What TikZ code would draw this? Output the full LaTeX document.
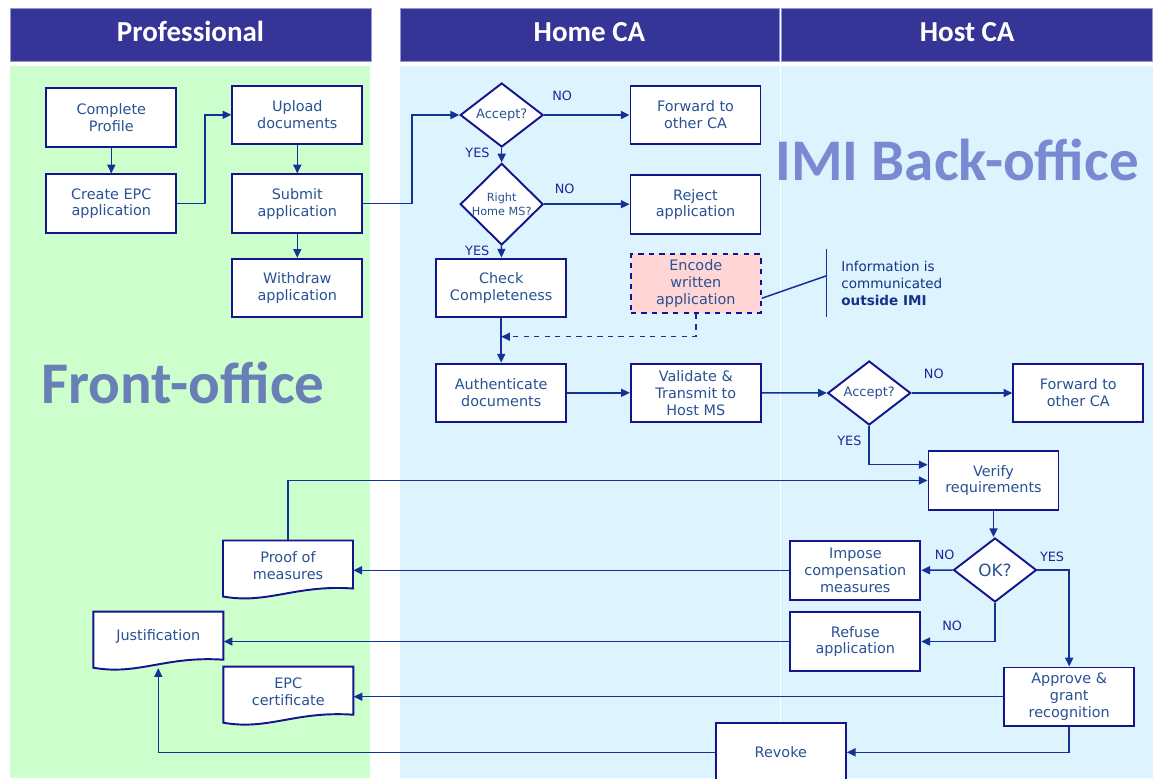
\documentclass[tikz,border=0pt]{standalone}
\usepackage{fontspec}
\setmainfont{DejaVu Sans}
\newfontfamily\headfont{Carlito}
\usetikzlibrary{shapes.geometric,arrows.meta}
\definecolor{headfill}{RGB}{53,53,151}
\definecolor{headline}{RGB}{150,150,215}
\definecolor{lanegreen}{RGB}{204,255,204}
\definecolor{laneblue}{RGB}{221,244,255}
\definecolor{frontcol}{RGB}{104,128,181}
\definecolor{backcol}{RGB}{122,138,210}
\definecolor{boxline}{RGB}{20,20,140}
\definecolor{flowline}{RGB}{20,50,150}
\definecolor{boxtext}{RGB}{40,82,148}
\definecolor{lbltext}{RGB}{25,40,150}
\definecolor{encodefill}{RGB}{255,213,213}
\definecolor{notetext}{RGB}{20,50,135}
% document shape: name, left, top, text
\newcommand{\docnode}[4]{%
  \filldraw[docline] (#2,#3) -- ({#2+130},#3) -- ({#2+130},{#3+48})
    .. controls ({#2+72},{#3+44}) and ({#2+45},{#3+64}) .. (#2,{#3+56}) -- cycle;
  \node[doctext] (#1) at ({#2+65},{#3+25}) {#4};}
\begin{document}
\begin{tikzpicture}[x=0.02cm,y=-0.02cm,
  lanehead/.style={draw=headline, fill=headfill, text=white, line width=0.5pt,
    font=\headfont\bfseries\fontsize{16.5}{18}\selectfont, minimum height=1.068cm, inner sep=0pt,
    text depth=3.8pt},
  bigtext/.style={font=\headfont\bfseries\fontsize{33.6}{37}\selectfont, inner sep=0pt, anchor=base},
  box/.style={draw=boxline, fill=white, line width=1.1pt, minimum width=2.6cm, minimum height=1.17cm,
    inner sep=1pt, align=center, text=boxtext, font=\fontsize{8.2}{9.6}\selectfont},
  decision/.style={diamond, draw=boxline, fill=white, line width=1.1pt, minimum width=1.66cm,
    minimum height=1.28cm, inner sep=0pt, align=center, text=boxtext, font=\fontsize{7.4}{8.4}\selectfont},
  doctext/.style={minimum width=2.6cm, minimum height=1cm, inner sep=0pt, align=center,
    text=boxtext, font=\fontsize{8.2}{9.6}\selectfont},
  docline/.style={draw=boxline, fill=white, line width=1.1pt},
  flow/.style={draw=flowline, line width=0.85pt, -{Triangle[length=5pt,width=4.6pt]}},
  lbl/.style={text=lbltext, font=\fontsize{7.3}{8}\selectfont, inner sep=0pt},
  noteline/.style={draw=flowline, line width=0.85pt}]
  \useasboundingbox (0,0) rectangle (1153,778);
  % lanes
  \fill[lanegreen] (10,66) rectangle (370,778);
  \fill[laneblue] (400,66) rectangle (1153,778);
  \draw[white, line width=0.6pt] (780.5,66) -- (780.5,778);
  \node[lanehead, minimum width=7.22cm] (prof) at (190.5,35) {Professional};
  \node[lanehead, minimum width=7.58cm] (home) at (589.5,35) {Home CA};
  \node[lanehead, minimum width=7.43cm] (host) at (967.2,35) {Host CA};
  \node[bigtext, text=frontcol] (front) at (183,403) {Front-office};
  \node[bigtext, text=backcol] (back) at (957,180) {IMI Back-office};

  % professional
  \node[box] (profile) at (111.3,117.5) {Complete\\Profile};
  \node[box] (createepc) at (111.3,203.7) {Create EPC\\application};
  \node[box] (upload) at (297.3,114.8) {Upload\\documents};
  \node[box] (submit) at (297.3,203.7) {Submit\\application};
  \node[box] (withdraw) at (297.3,288) {Withdraw\\application};
  \docnode{proof}{223}{540.5}{Proof of\\measures}
  \docnode{justif}{93.3}{611.7}{Justification}
  \docnode{epccert}{223.3}{666.7}{EPC\\certificate}

  % home CA
  \node[decision] (accept) at (501.7,115) {Accept?};
  \node[box] (forward) at (695.5,115) {Forward to\\other CA};
  \node[decision, font=\fontsize{6.4}{7.6}\selectfont] (rightms) at (501.7,204.2) {Right\\Home MS?};
  \node[box] (reject) at (695.5,204.5) {Reject\\application};
  \node[box] (check) at (501.2,287.8) {Check\\Completeness};
  \node[box, fill=encodefill, dashed] (encode) at (695.8,283.7) {Encode\\written\\application};
  \node[box] (auth) at (501.2,392.8) {Authenticate\\documents};
  \node[box] (validate) at (695.8,392.8) {Validate \&\\Transmit to\\Host MS};

  % host CA
  \node[decision] (accepthost) at (869.2,393) {Accept?};
  \node[box] (forwardhost) at (1078.3,393) {Forward to\\other CA};
  \node[box] (verify) at (993.5,480.5) {Verify\\requirements};
  \node[decision, font=\fontsize{9.6}{11}\selectfont] (okq) at (995,570) {OK?};
  \node[box] (impose) at (855.3,570.3) {Impose\\compensation\\measures};
  \node[box] (refuse) at (855.3,641.5) {Refuse\\application};
  \node[box] (approve) at (1069.2,696.7) {Approve \&\\grant\\recognition};
  \node[box] (revoke) at (780.8,752.3) {Revoke};

  % note
  \node[anchor=west, align=left, text=notetext, inner sep=0pt,
    font=\fontsize{7.7}{9.9}\selectfont] (note) at (841,283.5)
    {Information is\\communicated\\{\bfseries outside IMI}};
  \coordinate (bartop) at (826.7,249);
  \coordinate (barbot) at (826.7,316.7);
  \coordinate (barmid) at (826.7,275.7);
  \draw[noteline] (bartop) -- (barbot);
  \draw[noteline] ([yshift=-8.3pt]encode.east) -- (barmid);

  % connectors
  \draw[flow] (profile) -- (createepc);
  \draw[flow] (createepc.east) -- ++(27.5,0) |- (upload.west);
  \draw[flow] (upload) -- (submit);
  \draw[flow] (submit) -- (withdraw);
  \draw[flow] (submit.east) -- ++(48.7,0) |- (accept.west);
  \draw[flow] (accept) -- node[lbl, pos=0.21, above=7.5pt] (no1) {NO} (forward);
  \draw[flow] (accept) -- node[lbl, pos=0.37, left=6.5pt] (yes1) {YES} (rightms);
  \draw[flow] (rightms.east) -- node[lbl, pos=0.24, above=5.7pt] (no2) {NO} (rightms.east -| reject.west);
  \draw[flow] (rightms) -- node[lbl, pos=0.45, left=6.5pt] (yes2) {YES} (check);
  \draw[flow] (check) -- (auth);
  \coordinate (merge) at (501.2,336.7);
  \draw[flow, dashed] (encode.south) |- (merge);
  \draw[flow] (auth) -- (validate);
  \draw[flow] (validate) -- (accepthost);
  \draw[flow] (accepthost) -- node[lbl, pos=0.22, above=7.5pt] (no3) {NO} (forwardhost);
  \draw[flow] (accepthost.south) |- node[lbl, pos=0.19, left=4pt] (yes3) {YES} ([yshift=9pt]verify.west);
  \draw[flow] (proof.north) |- (verify.west);
  \draw[flow] (verify.south) -- (verify.south |- okq.north);
  \draw[flow] (okq.west) -- node[lbl, pos=0.25, above=5.7pt] (no4) {NO} (impose.east);
  \draw[flow] (okq.south) |- node[lbl, pos=0.79, above=6pt] (no5) {NO} (refuse.east);
  \draw[flow] (okq.east) -| node[lbl, pos=0.23, above=4.4pt] (yes4) {YES} (approve.north);
  \draw[flow] (impose.west) -- (impose.west -| proof.east);
  \draw[flow] (refuse.west) -- (refuse.west -| justif.east);
  \draw[flow] (approve.west) -- (approve.west -| epccert.east);
  \draw[flow] (approve.south) |- (revoke.east);
  \draw[flow] (revoke.west) -| ([yshift=-3.5pt]justif.south);
\end{tikzpicture}
\end{document}
